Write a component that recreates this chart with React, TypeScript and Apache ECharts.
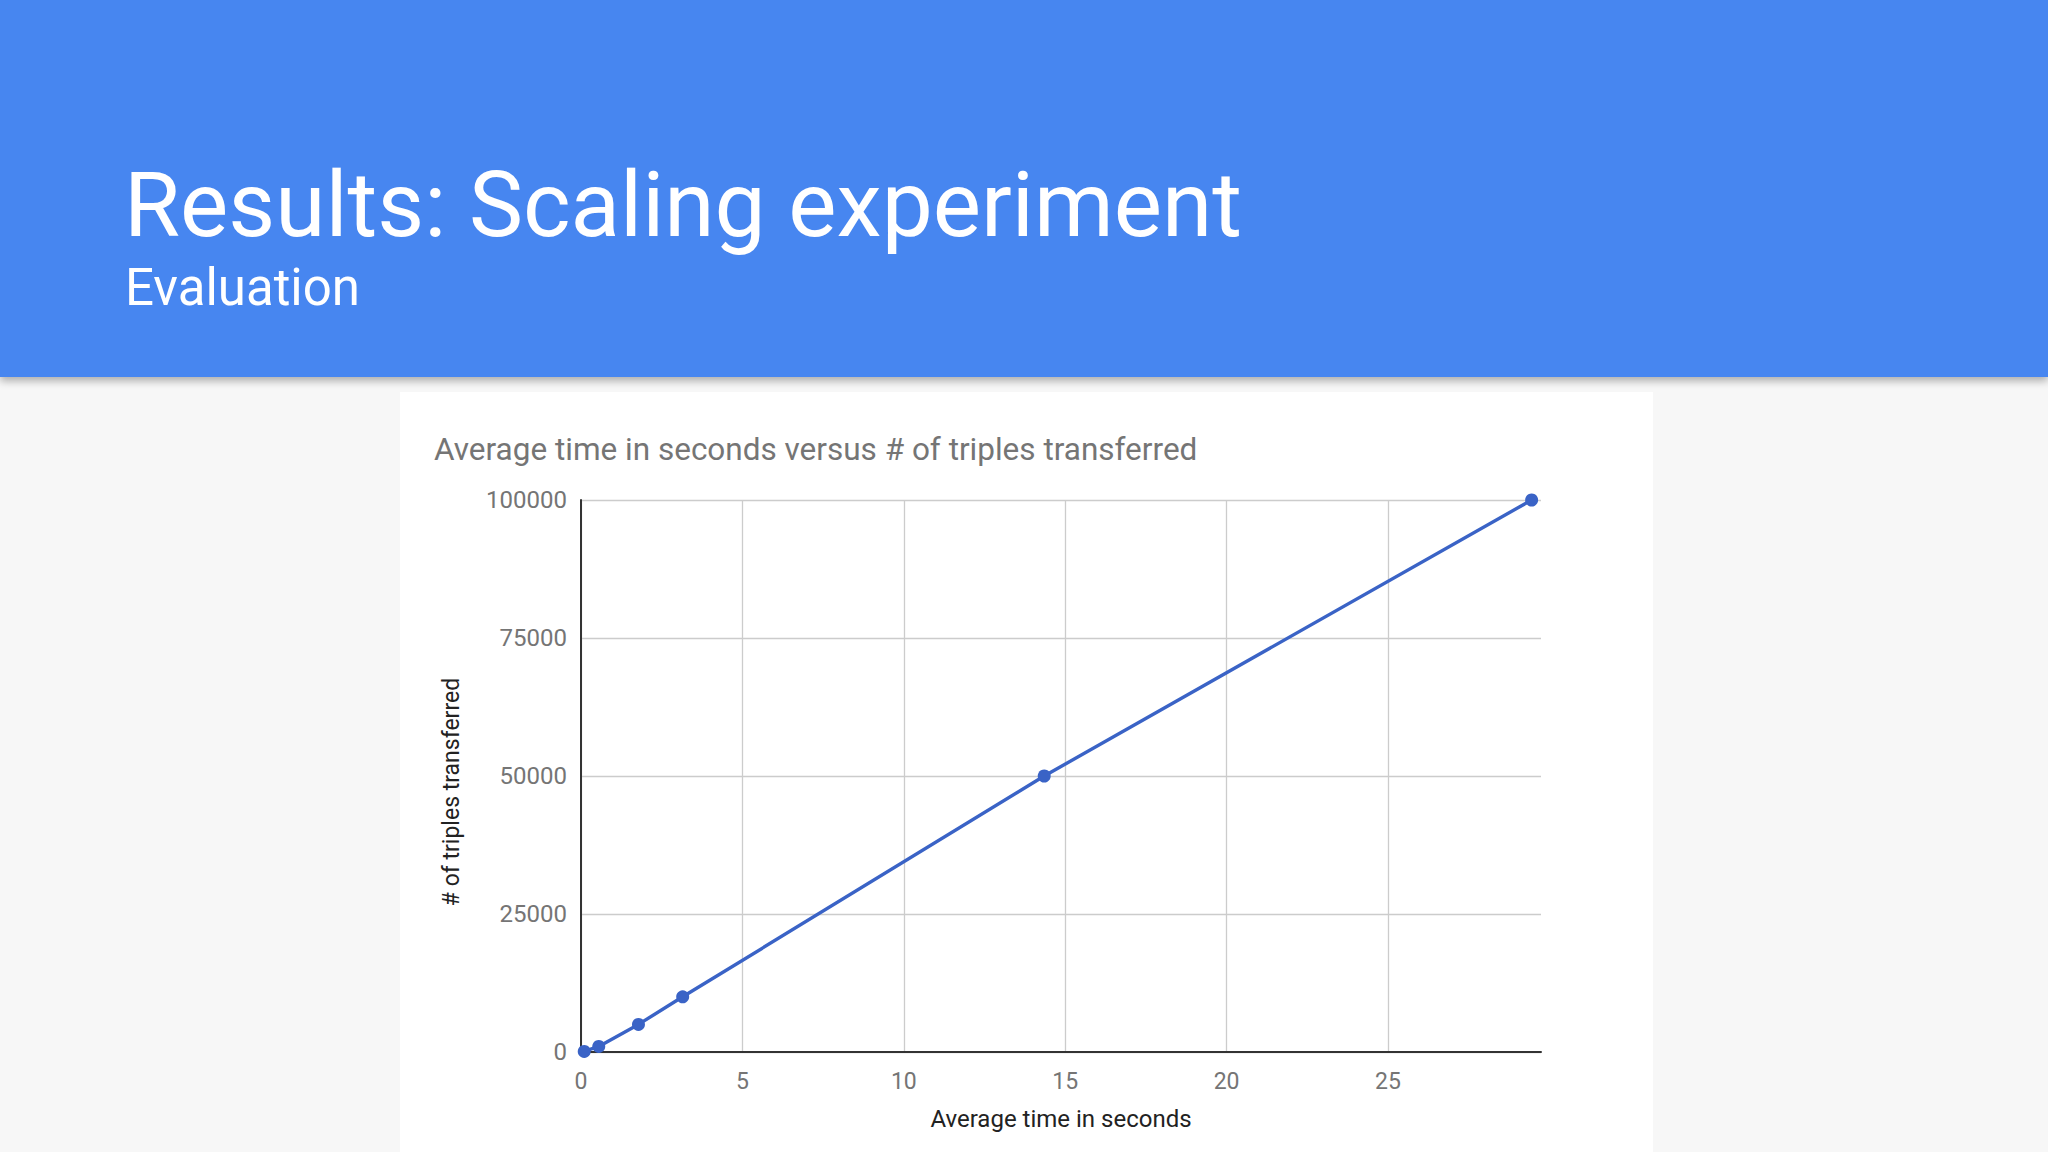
import React, { useEffect, useRef } from 'react';
import * as echarts from 'echarts';

const slideTitle = 'Results: Scaling experiment';
const slideSubtitle = 'Evaluation';
const chartTitle = 'Average time in seconds versus # of triples transferred';

// seconds (x) and triples transferred (y)
const avgSeconds = [0.1, 0.55, 1.78, 3.15, 14.35, 29.45];
const triples = [100, 1000, 5000, 10000, 50000, 100000];

const App = () => {
  const chartRef = useRef<HTMLDivElement>(null);

  useEffect(() => {
    if (!chartRef.current) return;
    const chart = echarts.init(chartRef.current, undefined, { renderer: 'svg' });

    const option = {
      animation: false,
      textStyle: { fontFamily: 'Roboto' },
      title: {
        text: chartTitle,
        left: 29,
        top: 36,
        textStyle: { fontFamily: 'Roboto', fontSize: 31.5, fontWeight: 'normal', color: '#757575' },
      },
      grid: { left: 181, top: 108, right: 112, bottom: 100, containLabel: false },
      xAxis: {
        type: 'value',
        min: 0,
        max: 29.74,
        interval: 5,
        name: 'Average time in seconds',
        nameLocation: 'middle',
        nameGap: 55,
        nameTextStyle: { fontFamily: 'Roboto', fontSize: 24, color: '#222' },
        axisLine: { show: true, onZero: false, lineStyle: { color: '#333', width: 2 } },
        axisTick: { show: false },
        axisLabel: {
          margin: 18,
          fontSize: 23,
          color: '#757575',
          showMaxLabel: false,
          formatter: (v: number) => (v % 5 === 0 ? String(v) : ''),
        },
        splitLine: { show: true, showMaxLine: false, lineStyle: { color: '#cccccc', width: 1.3 } },
      },
      yAxis: {
        type: 'value',
        min: 0,
        max: 100000,
        interval: 25000,
        name: '# of triples transferred',
        nameLocation: 'middle',
        nameGap: 118,
        nameTextStyle: { fontFamily: 'Roboto', fontSize: 23, color: '#222', padding: [0, 32, 0, 0] },
        axisLine: { show: true, lineStyle: { color: '#333', width: 2 } },
        axisTick: { show: false },
        axisLabel: { margin: 14, fontSize: 24, color: '#757575', formatter: (v: number) => String(v) },
        splitLine: { show: true, lineStyle: { color: '#cccccc', width: 1.3 } },
      },
      series: [
        {
          type: 'line',
          data: avgSeconds.map((x, i) => [x, triples[i]]),
          symbol: 'circle',
          symbolSize: 13,
          itemStyle: { color: '#3a63c6' },
          lineStyle: { color: '#3a63c6', width: 3.4 },
        },
      ],
    };

    chart.setOption(option);
    return () => chart.dispose();
  }, []);

  return (
    <div
      style={{
        position: 'fixed',
        left: 0,
        top: 0,
        width: 2048,
        height: 1152,
        background: '#f7f7f7',
        fontFamily: 'Roboto',
        overflow: 'hidden',
      }}
    >
      <div
        style={{
          position: 'absolute',
          left: 0,
          top: 0,
          width: 2048,
          height: 377,
          background: '#4786f0',
          boxShadow: '0 4px 8px rgba(0,0,0,0.3)',
          zIndex: 2,
        }}
      >
        <div
          style={{
            position: 'absolute',
            left: 124,
            top: 160,
            fontSize: 91,
            lineHeight: 1,
            color: '#fff',
            whiteSpace: 'nowrap',
          }}
        >
          {slideTitle}
        </div>
        <div
          style={{
            position: 'absolute',
            left: 125,
            top: 262,
            fontSize: 51,
            lineHeight: 1,
            color: '#fff',
            whiteSpace: 'nowrap',
          }}
        >
          {slideSubtitle}
        </div>
      </div>
      <div
        ref={chartRef}
        style={{
          position: 'absolute',
          left: 400,
          top: 392,
          width: 1253,
          height: 760,
          background: '#ffffff',
        }}
      />
    </div>
  );
};

export default App;
